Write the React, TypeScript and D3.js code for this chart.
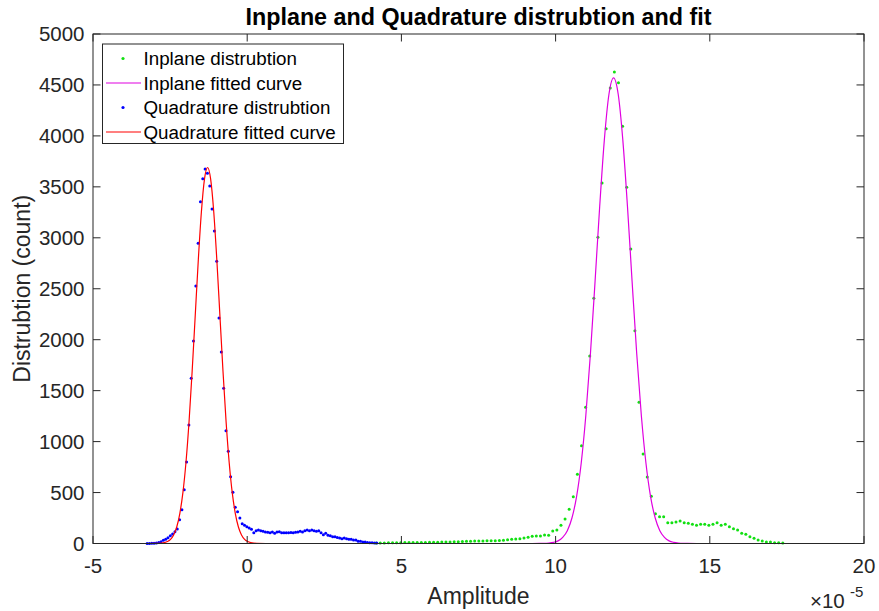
import React from 'react';
import * as d3 from 'd3';

const W = 879;
const H = 611;
const PLOT = { left: 93, right: 864, top: 34, bottom: 543.5 };

const xTicks = [-5, 0, 5, 10, 15, 20];
const yTicks = [0, 500, 1000, 1500, 2000, 2500, 3000, 3500, 4000, 4500, 5000];

// Quadrature histogram (100 bins)
const quadStart = -3.245;
const quadStep = 0.0752;
const quadCounts = [
  1, 1, 2, 3, 5, 11, 18, 31, 41, 57,
  77, 93, 116, 142, 234, 332, 528, 800, 1163, 1621,
  1987, 2527, 2946, 3354, 3580, 3675, 3633, 3508, 3283, 3067,
  2769, 2213, 1880, 1523, 1107, 905, 656, 502, 355, 312,
  250, 194, 178, 165, 152, 139, 106, 126, 132, 126,
  120, 113, 110, 106, 113, 100, 113, 116, 106, 106,
  106, 106, 108, 106, 110, 113, 120, 113, 126, 132,
  126, 132, 126, 120, 126, 106, 87, 100, 80, 75,
  67, 67, 58, 54, 47, 54, 47, 41, 41, 34,
  34, 21, 21, 15, 15, 10, 8, 8, 6, 5,
];

// Inplane histogram (100 bins)
const inStart = 4.18;
const inStep = 0.1332;
const inCounts = [
  5, 6, 6, 7, 7, 8, 8, 9, 9, 10,
  10, 11, 11, 12, 12, 13, 14, 15, 15, 16,
  18, 20, 22, 22, 24, 25, 25, 26, 27, 28,
  29, 31, 36, 41, 44, 47, 54, 61, 70, 74,
  74, 83, 80, 123, 132, 180, 240, 336, 460, 679,
  960, 1337, 1840, 2406, 3005, 3538, 4071, 4470, 4627, 4522,
  4094, 3496, 2890, 2088, 1386, 878, 653, 463, 292, 263,
  263, 204, 204, 211, 221, 204, 198, 188, 178, 188,
  188, 178, 188, 204, 178, 188, 165, 145, 132, 100,
  90, 67, 51, 34, 25, 15, 15, 8, 8, 5,
];

// Fitted curves (sampled)
const quadFitX = [
  -3.245, -2.885, -2.785, -2.685, -2.585, -2.485, -2.385, -2.285, -2.185, -2.085,
  -1.985, -1.885, -1.785, -1.685, -1.585, -1.485, -1.385, -1.285, -1.185, -1.085,
  -0.985, -0.885, -0.785, -0.685, -0.585, -0.485, -0.385, -0.285, -0.185, -0.085,
  0.015, 0.115, 0.215, 0.315, 0.6, 4.2,
];
const quadFitY = [
  0, 1, 3, 8, 19, 41, 84, 162, 294, 499,
  798, 1198, 1690, 2238, 2785, 3256, 3576, 3690, 3576, 3256,
  2785, 2238, 1690, 1198, 798, 499, 294, 162, 84, 41,
  19, 8, 3, 1, 0, 0,
];
const inFitX = [
  4.18, 9.18, 9.48, 9.63, 9.78, 9.93, 10.08, 10.23, 10.38, 10.53,
  10.68, 10.83, 10.98, 11.13, 11.28, 11.43, 11.58, 11.73, 11.88, 12.03,
  12.18, 12.33, 12.48, 12.63, 12.78, 12.93, 13.08, 13.23, 13.38, 13.53,
  13.68, 13.83, 13.98, 14.13, 14.28, 14.58, 17.37,
];
const inFitY = [
  0, 0, 0.5, 1, 4, 11, 26, 60, 126, 250,
  460, 788, 1256, 1864, 2574, 3309, 3959, 4409, 4570, 4409,
  3959, 3309, 2574, 1864, 1256, 788, 460, 250, 126, 60,
  26, 11, 4, 1, 0.5, 0, 0,
];

const legendItems = [
  { label: 'Inplane distrubtion', kind: 'dot', color: '#11e011' },
  { label: 'Inplane fitted curve', kind: 'line', color: '#e000e0' },
  { label: 'Quadrature distrubtion', kind: 'dot', color: '#0000ff' },
  { label: 'Quadrature fitted curve', kind: 'line', color: '#ff0000' },
];

const FONT = '"Liberation Sans", Arial, Helvetica, sans-serif';
const AXIS = '#262626';

export default function App() {
  const x = d3.scaleLinear().domain([-5, 20]).range([PLOT.left, PLOT.right]);
  const y = d3.scaleLinear().domain([0, 5000]).range([PLOT.bottom, PLOT.top]);

  const quadPts = quadCounts.map((c, i) => [quadStart + i * quadStep, c] as [number, number]);
  const inPts = inCounts.map((c, i) => [inStart + i * inStep, c] as [number, number]);

  const line = d3
    .line<[number, number]>()
    .x((d) => x(d[0]))
    .y((d) => y(d[1]))
    .curve(d3.curveMonotoneX);

  const quadFit = line(quadFitX.map((v, i) => [v, quadFitY[i]] as [number, number])) || '';
  const inFit = line(inFitX.map((v, i) => [v, inFitY[i]] as [number, number])) || '';

  const tickLen = 7.5;
  const legend = { x: 102.5, y: 44, w: 241, h: 99.5 };
  const rowY = [58.5, 83, 107.5, 132];

  return (
    <svg
      width={W}
      height={H}
      style={{ position: 'absolute', left: 0, top: 0, background: '#fff' }}
      fontFamily={FONT}
    >
      <rect x={0} y={0} width={W} height={H} fill="#fff" />

      {/* Inplane data */}
      <g fill={legendItems[0].color}>
        {inPts.map((d, i) => (
          <circle key={i} cx={x(d[0])} cy={y(d[1])} r={1.5} />
        ))}
      </g>
      <path d={inFit} fill="none" stroke={legendItems[1].color} strokeWidth={1.2} />

      {/* Quadrature data */}
      <g fill={legendItems[2].color}>
        {quadPts.map((d, i) => (
          <circle key={i} cx={x(d[0])} cy={y(d[1])} r={1.5} />
        ))}
      </g>
      <path d={quadFit} fill="none" stroke={legendItems[3].color} strokeWidth={1.2} />

      {/* Axes box */}
      <rect
        x={PLOT.left}
        y={PLOT.top}
        width={PLOT.right - PLOT.left}
        height={PLOT.bottom - PLOT.top}
        fill="none"
        stroke={AXIS}
        strokeWidth={1}
      />
      {xTicks.map((t) => (
        <g key={'xt' + t}>
          <line x1={x(t)} x2={x(t)} y1={PLOT.bottom} y2={PLOT.bottom - tickLen} stroke={AXIS} />
          <line x1={x(t)} x2={x(t)} y1={PLOT.top} y2={PLOT.top + tickLen} stroke={AXIS} />
          <text x={x(t)} y={572.5} textAnchor="middle" fontSize={20.5} fill={AXIS}>
            {t}
          </text>
        </g>
      ))}
      {yTicks.map((t) => (
        <g key={'yt' + t}>
          <line x1={PLOT.left} x2={PLOT.left + tickLen} y1={y(t)} y2={y(t)} stroke={AXIS} />
          <line x1={PLOT.right} x2={PLOT.right - tickLen} y1={y(t)} y2={y(t)} stroke={AXIS} />
          <text x={84.5} y={y(t) + 7.3} textAnchor="end" fontSize={20.5} fill={AXIS}>
            {t}
          </text>
        </g>
      ))}

      {/* Exponent */}
      <text x={810} y={607.5} fontSize={20.5} fill={AXIS}>
        ×10
      </text>
      <text x={850} y={596.5} fontSize={15} fill={AXIS}>
        -5
      </text>

      {/* Labels */}
      <text x={(PLOT.left + PLOT.right) / 2} y={25} textAnchor="middle" fontSize={23.3} fontWeight="bold" fill="#000">
        Inplane and Quadrature distrubtion and fit
      </text>
      <text x={(PLOT.left + PLOT.right) / 2} y={604} textAnchor="middle" fontSize={23} fill={AXIS}>
        Amplitude
      </text>
      <text
        transform={`translate(30,${(PLOT.top + PLOT.bottom) / 2}) rotate(-90)`}
        textAnchor="middle"
        fontSize={23}
        fill={AXIS}
      >
        Distrubtion (count)
      </text>

      {/* Legend */}
      <rect x={legend.x} y={legend.y} width={legend.w} height={legend.h} fill="#fff" stroke={AXIS} strokeWidth={1} />
      {legendItems.map((it, i) => (
        <g key={it.label}>
          {it.kind === 'dot' ? (
            <circle cx={123} cy={rowY[i]} r={1.6} fill={it.color} />
          ) : (
            <line x1={106} x2={141} y1={rowY[i]} y2={rowY[i]} stroke={it.color} strokeWidth={1.2} />
          )}
          <text x={143.5} y={rowY[i] + 6.6} fontSize={18.8} fill="#000">
            {it.label}
          </text>
        </g>
      ))}
    </svg>
  );
}
